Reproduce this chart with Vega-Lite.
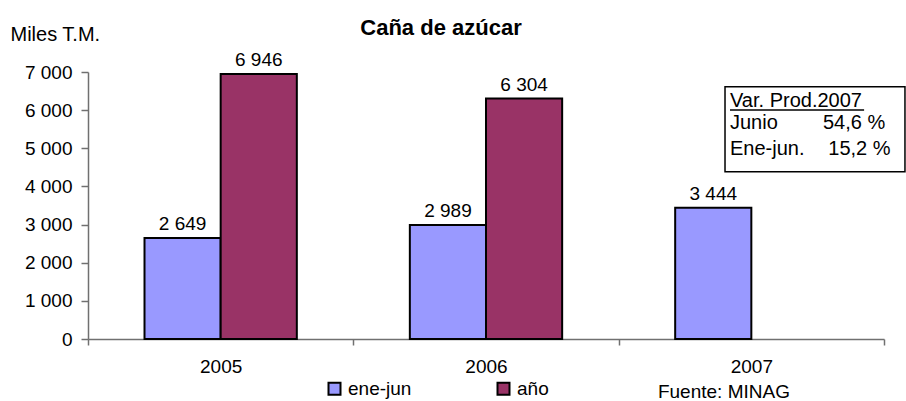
{
  "$schema": "https://vega.github.io/schema/vega-lite/v6.json",
  "width": 796,
  "height": 267,
  "autosize": {"type": "none"},
  "padding": {"left": 88, "top": 72, "right": 22, "bottom": 62},
  "config": {
    "font": "Liberation Sans",
    "view": {"stroke": null},
    "locale": {"number": {"decimal": ",", "thousands": " ", "grouping": [3], "currency": ["", ""]}}
  },
  "title": {
    "text": "Caña de azúcar",
    "font": "Liberation Sans",
    "fontSize": 22,
    "fontWeight": "bold",
    "color": "#000000",
    "anchor": "middle",
    "frame": "group",
    "baseline": "alphabetic",
    "offset": 0,
    "dx": -45,
    "dy": 33
  },
  "datasets": {
    "prod": [
      {"anio": "2005", "serie": "ene-jun", "valor": 2649},
      {"anio": "2005", "serie": "año", "valor": 6946},
      {"anio": "2006", "serie": "ene-jun", "valor": 2989},
      {"anio": "2006", "serie": "año", "valor": 6304},
      {"anio": "2007", "serie": "ene-jun", "valor": 3444}
    ],
    "encabezado": [
      {"texto": "Var. Prod.2007"}
    ],
    "nota": [
      {"etiqueta": "Junio", "variacion": "54,6 %"},
      {"etiqueta": "Ene-jun.", "variacion": "15,2 %"}
    ],
    "fuente": [
      {"texto": "Fuente: MINAG"}
    ]
  },
  "layer": [
    {
      "data": {"name": "prod"},
      "encoding": {
        "x": {
          "field": "anio",
          "type": "nominal",
          "scale": {"paddingInner": 0, "paddingOuter": 0},
          "axis": {
            "title": null,
            "labelAngle": 0,
            "labelFontSize": 19,
            "labelColor": "#000000",
            "labelPadding": 12,
            "tickBand": "extent",
            "tickSize": 6,
            "domainColor": "#707070",
            "tickColor": "#707070",
            "domainWidth": 1.5,
            "tickWidth": 1.5
          }
        },
        "xOffset": {
          "field": "serie",
          "type": "nominal",
          "scale": {"domain": ["ene-jun", "año"], "paddingInner": 0, "paddingOuter": 0.742}
        },
        "y": {
          "field": "valor",
          "type": "quantitative",
          "scale": {"domain": [0, 7000], "nice": false},
          "axis": {
            "title": "Miles T.M.",
            "titleAngle": 0,
            "titleX": -78,
            "titleY": -32,
            "titleAlign": "left",
            "titleBaseline": "alphabetic",
            "titleFontSize": 20,
            "titleFontWeight": "normal",
            "titleColor": "#000000",
            "values": [0, 1000, 2000, 3000, 4000, 5000, 6000, 7000],
            "format": ",d",
            "grid": false,
            "labelFontSize": 19,
            "labelColor": "#000000",
            "labelPadding": 9,
            "tickSize": 7,
            "domainColor": "#707070",
            "tickColor": "#707070",
            "domainWidth": 1.5,
            "tickWidth": 1.5
          }
        }
      },
      "layer": [
        {
          "mark": {"type": "bar", "stroke": "#000000", "strokeWidth": 2},
          "encoding": {
            "color": {
              "field": "serie",
              "type": "nominal",
              "scale": {"domain": ["ene-jun", "año"], "range": ["#9999FF", "#993366"]},
              "legend": {
                "title": null,
                "orient": "none",
                "direction": "horizontal",
                "legendX": 237,
                "legendY": 307,
                "symbolType": "square",
                "symbolSize": 144,
                "symbolStrokeColor": "#000000",
                "symbolStrokeWidth": 2,
                "labelFontSize": 19,
                "labelColor": "#000000",
                "labelOffset": 4,
                "columnPadding": 81
              }
            }
          }
        },
        {
          "mark": {"type": "text", "fontSize": 19, "color": "#000000", "baseline": "alphabetic", "dy": -8},
          "encoding": {
            "text": {"field": "valor", "type": "quantitative", "format": ",d"}
          }
        }
      ]
    },
    {
      "encoding": {
        "x": {"datum": 2.4196, "type": "quantitative", "scale": {"domain": [0, 3], "nice": false, "zero": false}, "axis": null}
      },
      "layer": [
        {
          "data": {"name": "encabezado"},
          "mark": {"type": "rect", "fill": "#ffffff", "stroke": "#000000", "strokeWidth": 1.5},
          "encoding": {
            "x": {"datum": 2.4008, "type": "quantitative", "scale": {"domain": [0, 3], "nice": false, "zero": false}, "axis": null},
            "x2": {"datum": 3.079},
            "y": {"datum": 6615, "type": "quantitative", "axis": null},
            "y2": {"datum": 4387}
          }
        },
        {
          "data": {"name": "encabezado"},
          "mark": {"type": "text", "fontSize": 20, "color": "#000000", "align": "left", "baseline": "alphabetic"},
          "encoding": {
            "y": {"datum": 6091, "type": "quantitative", "axis": null},
            "text": {"field": "texto"}
          }
        },
        {
          "data": {"name": "encabezado"},
          "mark": {"type": "rule", "stroke": "#000000", "strokeWidth": 1.5},
          "encoding": {
            "x2": {"datum": 2.925},
            "y": {"datum": 6004, "type": "quantitative", "axis": null}
          }
        },
        {
          "data": {"name": "nota"},
          "transform": [{"filter": "datum.etiqueta == 'Junio'"}],
          "mark": {"type": "text", "fontSize": 20, "color": "#000000", "align": "left", "baseline": "alphabetic"},
          "encoding": {
            "y": {"datum": 5506, "type": "quantitative", "axis": null},
            "text": {"field": "etiqueta"}
          }
        },
        {
          "data": {"name": "nota"},
          "transform": [{"filter": "datum.etiqueta == 'Junio'"}],
          "mark": {"type": "text", "fontSize": 20, "color": "#000000", "align": "left", "baseline": "alphabetic"},
          "encoding": {
            "x": {"datum": 2.770, "type": "quantitative", "scale": {"domain": [0, 3], "nice": false, "zero": false}, "axis": null},
            "y": {"datum": 5506, "type": "quantitative", "axis": null},
            "text": {"field": "variacion"}
          }
        },
        {
          "data": {"name": "nota"},
          "transform": [{"filter": "datum.etiqueta == 'Ene-jun.'"}],
          "mark": {"type": "text", "fontSize": 20, "color": "#000000", "align": "left", "baseline": "alphabetic"},
          "encoding": {
            "y": {"datum": 4825, "type": "quantitative", "axis": null},
            "text": {"field": "etiqueta"}
          }
        },
        {
          "data": {"name": "nota"},
          "transform": [{"filter": "datum.etiqueta == 'Ene-jun.'"}],
          "mark": {"type": "text", "fontSize": 20, "color": "#000000", "align": "left", "baseline": "alphabetic"},
          "encoding": {
            "x": {"datum": 2.790, "type": "quantitative", "scale": {"domain": [0, 3], "nice": false, "zero": false}, "axis": null},
            "y": {"datum": 4825, "type": "quantitative", "axis": null},
            "text": {"field": "variacion"}
          }
        },
        {
          "data": {"name": "fuente"},
          "mark": {"type": "text", "fontSize": 19, "color": "#000000", "align": "left", "baseline": "alphabetic"},
          "encoding": {
            "x": {"datum": 2.148, "type": "quantitative", "scale": {"domain": [0, 3], "nice": false, "zero": false}, "axis": null},
            "y": {"datum": -1547, "type": "quantitative", "axis": null},
            "text": {"field": "texto"}
          }
        }
      ]
    }
  ],
  "resolve": {"scale": {"x": "independent"}, "axis": {"y": "independent"}}
}
